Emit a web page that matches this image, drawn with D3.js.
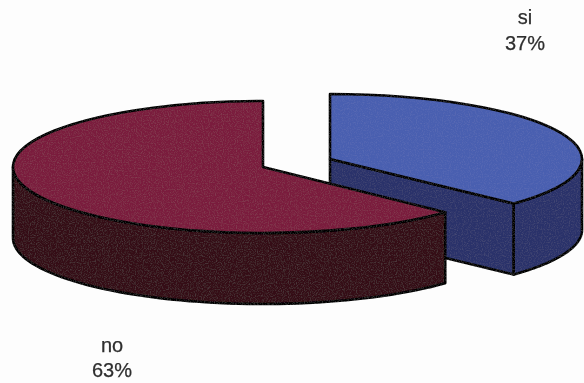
<!DOCTYPE html>
<html>
<head>
<meta charset="utf-8">
<script src="https://cdn.jsdelivr.net/npm/d3@7"></script>
<style>
html,body{margin:0;padding:0;background:#fdfdfd;}
svg{display:block;}
</style>
</head>
<body>
<svg id="chart" width="584" height="383"></svg>
<script>
const categories = ["si", "no"];
const shares = [37, 63];
const percentLabels = ["37%", "63%"];
const topColors = ["#4a5fb0", "#7a1d3c"];
const sideColors = ["#29336b", "#340c12"];

const W = 584, H = 383;
const geometry = [
  {cx: 330, cy: 159, rx: 252, ry: 65, depth: 71},
  {cx: 263, cy: 167, rx: 250, ry: 66, depth: 71}
];
const labelPos = [
  {x: 525, y1: 24, y2: 50},
  {x: 112, y1: 352, y2: 377}
];

const svg = d3.select("#chart");
const defs = svg.append("defs");

const grain = defs.append("filter").attr("id", "grain")
  .attr("x", "-5%").attr("y", "-5%").attr("width", "110%").attr("height", "110%");
grain.append("feTurbulence").attr("type", "fractalNoise").attr("baseFrequency", 0.85)
  .attr("numOctaves", 2).attr("seed", 4).attr("result", "n");
grain.append("feColorMatrix").attr("in", "n").attr("type", "matrix")
  .attr("values", "0 0 0 0 1  0 0 0 0 1  0 0 0 0 1  1.1 0 0 0 -0.5").attr("result", "speck");
grain.append("feComposite").attr("in", "speck").attr("in2", "SourceAlpha")
  .attr("operator", "in").attr("result", "clipped");
grain.append("feComponentTransfer").attr("in", "clipped").attr("result", "soft")
  .append("feFuncA").attr("type", "linear").attr("slope", 0.09);
const merge = grain.append("feMerge");
merge.append("feMergeNode").attr("in", "SourceGraphic");
merge.append("feMergeNode").attr("in", "soft");

const soften = defs.append("filter").attr("id", "soften");
soften.append("feGaussianBlur").attr("stdDeviation", 0.5);

svg.append("rect").attr("width", W).attr("height", H).attr("fill", "#fdfdfd");

const root = svg.append("g").attr("filter", "url(#soften)");

const pie = d3.pie().sort(null).value(d => d);
const slices = pie(shares);

const R = 100;
const arc = d3.arc().innerRadius(0).outerRadius(R);
const line = d3.line();
const strokeWidth = 2.6, strokeColor = "#020204";

function pt(g, a, dz) {
  return [g.cx + g.rx * Math.sin(a), g.cy - g.ry * Math.cos(a) + (dz || 0)];
}

function wallPath(g, a0, a1) {
  const n = 60;
  const angles = d3.range(n + 1).map(i => a0 + (a1 - a0) * i / n);
  const pts = angles.map(a => pt(g, a, 0)).concat(angles.slice().reverse().map(a => pt(g, a, g.depth)));
  return line(pts) + "Z";
}

slices.forEach((s, i) => {
  const g = geometry[i];
  const layer = root.append("g").attr("filter", "url(#grain)");
  const right = Math.PI / 2, left = Math.PI * 1.5;

  // cut face of the slice that looks toward the viewer
  if (s.endAngle < Math.PI) {
    const e = pt(g, s.endAngle, 0), c = [g.cx, g.cy];
    layer.append("path")
      .attr("d", line([c, e, [e[0], e[1] + g.depth], [c[0], c[1] + g.depth]]) + "Z")
      .attr("fill", sideColors[i]).attr("stroke", strokeColor).attr("stroke-width", strokeWidth).attr("stroke-linejoin", "round");
  }
  // outer rim, front half only
  const a0 = Math.max(s.startAngle, right), a1 = Math.min(s.endAngle, left);
  if (a1 > a0) {
    layer.append("path").attr("d", wallPath(g, a0, a1))
      .attr("fill", sideColors[i]).attr("stroke", strokeColor).attr("stroke-width", strokeWidth).attr("stroke-linejoin", "round");
  }
  // top face
  layer.append("path")
    .attr("d", arc({startAngle: s.startAngle, endAngle: s.endAngle}))
    .attr("transform", `translate(${g.cx},${g.cy}) scale(${g.rx / R},${g.ry / R})`)
    .attr("fill", topColors[i]).attr("stroke", strokeColor).attr("stroke-width", strokeWidth)
    .attr("stroke-linejoin", "round").attr("vector-effect", "non-scaling-stroke");
});

const labels = root.append("g")
  .attr("font-family", "'Liberation Sans', Arial, sans-serif")
  .attr("font-size", 20).attr("fill", "#2e2e2e").attr("stroke", "#2e2e2e").attr("stroke-width", 0.25)
  .attr("text-anchor", "middle");
categories.forEach((c, i) => {
  const p = labelPos[i];
  labels.append("text").attr("x", p.x).attr("y", p.y1).text(c);
  labels.append("text").attr("x", p.x).attr("y", p.y2).text(percentLabels[i]);
});
</script>
</body>
</html>
